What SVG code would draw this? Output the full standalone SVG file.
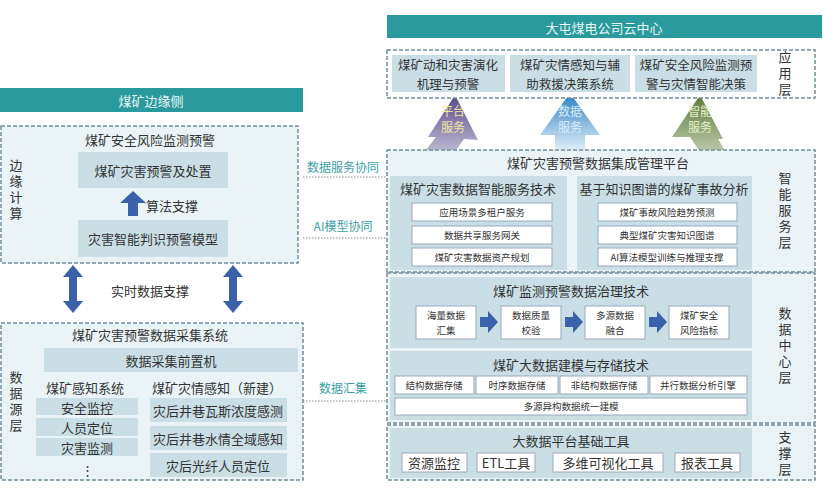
<svg xmlns="http://www.w3.org/2000/svg" width="823" height="500" viewBox="0 0 823 500">
<style>
text{font-family:"Noto Sans CJK SC","Noto Sans",sans-serif;fill:#333;text-anchor:middle;dominant-baseline:central}
.v{writing-mode:vertical-rl;letter-spacing:3px;font-size:13px}
.ban{fill:#2a9a9c}.bt{fill:#e8f6f6;font-size:13px}
.dash{fill:#eaf4f7;stroke:#6f8c9c;stroke-width:1.5;stroke-dasharray:4 2}
.pan{fill:#c9dfe5}.wb{fill:#fff;stroke:#9ab}
.t13{font-size:13px}.t12{font-size:12.5px}.t10{font-size:9.5px}
.lk{font-size:12px;fill:#3a9fa6}
.dot{stroke:#7a8a95;stroke-dasharray:1.5 1.5;stroke-width:1.2;fill:none}
.ar{fill:#3a62aa}
</style>
<defs>
<linearGradient id="gp" x1="0" y1="1" x2="0" y2="0"><stop offset="0" stop-color="#eef0f6"/><stop offset="1" stop-color="#5a4a88"/></linearGradient>
<linearGradient id="gb" x1="0" y1="1" x2="0" y2="0"><stop offset="0" stop-color="#dfeef8"/><stop offset="1" stop-color="#2a7fc4"/></linearGradient>
<linearGradient id="gg" x1="0" y1="1" x2="0" y2="0"><stop offset="0" stop-color="#eef3e6"/><stop offset="1" stop-color="#5c7a3a"/></linearGradient>
</defs>
<g id="edge-side">
<rect class="ban" x="0" y="88" width="303" height="24"/><text class="bt" x="151" y="100">煤矿边缘侧</text>
<rect class="dash" x="1" y="126" width="297" height="137"/>
<text class="t13" x="150" y="139">煤矿安全风险监测预警</text>
<text class="v" x="16" y="191">边缘计算</text>
<rect class="pan" x="78" y="152" width="150" height="36"/><text class="t13" x="153" y="170">煤矿灾害预警及处置</text>
<polygon class="ar" points="120,203 133,191 146,203 138,203 138,216 128,216 128,203"/>
<text class="t13" x="172" y="205">算法支撑</text>
<rect class="pan" x="78" y="220" width="150" height="37"/><text class="t13" x="153" y="238">灾害智能判识预警模型</text>
</g>
<g id="realtime">
<polygon class="ar" points="63,277 73,265 83,277 77,277 77,301 83,301 73,313 63,301 69,301 69,277"/>
<polygon class="ar" points="223,277 233,265 243,277 237,277 237,301 243,301 233,313 223,301 229,301 229,277"/>
<text class="t13" x="150" y="290">实时数据支撑</text>
</g>
<g id="data-source">
<rect class="dash" x="1" y="323" width="302" height="157"/>
<text class="t13" x="150" y="334">煤矿灾害预警数据采集系统</text>
<rect class="pan" x="44" y="348" width="254" height="24"/><text class="t13" x="171" y="360">数据采集前置机</text>
<text class="v" x="16" y="403">数据源层</text>
<text class="t13" x="85" y="387">煤矿感知系统</text>
<rect class="pan" x="36" y="398" width="102" height="17"/><text class="t13" x="87" y="407">安全监控</text>
<rect class="pan" x="36" y="418" width="102" height="18"/><text class="t13" x="87" y="427">人员定位</text>
<rect class="pan" x="36" y="438" width="102" height="18"/><text class="t13" x="87" y="447">灾害监测</text>
<text class="t13" x="87" y="469">⋮</text>
<text class="t13" x="217" y="387">煤矿灾情感知（新建）</text>
<rect class="pan" x="150" y="398" width="137" height="24"/><text class="t13" x="218" y="410">灾后井巷瓦斯浓度感测</text>
<rect class="pan" x="150" y="426" width="137" height="24"/><text class="t13" x="218" y="438">灾后井巷水情全域感知</text>
<rect class="pan" x="150" y="453" width="137" height="24"/><text class="t13" x="218" y="465">灾后光纤人员定位</text>
</g>
<g id="connectors">
<text class="lk" x="343" y="166">数据服务协同</text><path class="dot" d="M303 177H386"/>
<text class="lk" x="343" y="225">AI模型协同</text><path class="dot" d="M303 238H386"/>
<text class="lk" x="343" y="387">数据汇集</text><path class="dot" d="M303 401H388"/>
<path fill="url(#gp)" d="M410 175 Q425 150 436 137 L428 137 L455 95 L478 140 L464 139 Q448 162 432 180Z"/>
<polygon fill="url(#gb)" points="555,150 555,135 540,135 570,93 600,135 585,135 585,150"/>
<path fill="url(#gg)" d="M745 178 Q730 160 718 139 L723 139 L700 95 L672 137 L690 137 Q705 162 728 182Z"/>
<text x="453" y="110" style="font-size:12px;fill:#f0e8a0">平台</text><text x="453" y="126" style="font-size:12px;fill:#f0e8a0">服务</text>
<text x="570" y="110" style="font-size:12px;fill:#d9ecf8">数据</text><text x="570" y="126" style="font-size:12px;fill:#d9ecf8">服务</text>
<text x="700" y="110" style="font-size:12px;fill:#e6f0c8">智能</text><text x="700" y="126" style="font-size:12px;fill:#e6f0c8">服务</text>
</g>
<g id="cloud">
<rect class="ban" x="387" y="15" width="435" height="23"/><text class="bt" x="604" y="27">大屯煤电公司云中心</text>
</g>
<g id="app-layer">
<rect class="dash" x="387" y="50" width="428" height="48" style="fill:#fff"/>
<rect class="pan" x="392" y="55" width="113" height="37"/><text class="t12" x="448" y="64">煤矿动和灾害演化</text><text class="t12" x="448" y="83">机理与预警</text>
<rect class="pan" x="510" y="55" width="120" height="37"/><text class="t12" x="570" y="64">煤矿灾情感知与辅</text><text class="t12" x="570" y="83">助救援决策系统</text>
<rect class="pan" x="635" y="55" width="122" height="37"/><text class="t12" x="696" y="64">煤矿安全风险监测预</text><text class="t12" x="696" y="83">警与灾情智能决策</text>
<text class="v" x="785" y="75">应用层</text>
</g>
<g id="smart-layer">
<rect class="dash" x="387" y="150" width="428" height="122"/>
<text class="t13" x="598" y="162">煤矿灾害预警数据集成管理平台</text>
<rect class="pan" x="390" y="176" width="177" height="94"/><text class="t13" x="478" y="188">煤矿灾害数据智能服务技术</text>
<rect class="wb" x="412" y="203" width="140" height="18"/><text class="t10" x="482" y="212">应用场景多租户服务</text>
<rect class="wb" x="412" y="226" width="140" height="18"/><text class="t10" x="482" y="235">数据共享服务网关</text>
<rect class="wb" x="412" y="248" width="140" height="18"/><text class="t10" x="482" y="257">煤矿灾害数据资产规划</text>
<rect class="pan" x="577" y="176" width="175" height="94"/><text class="t13" x="664" y="188">基于知识图谱的煤矿事故分析</text>
<rect class="wb" x="598" y="203" width="139" height="18"/><text class="t10" x="667" y="212">煤矿事故风险趋势预测</text>
<rect class="wb" x="598" y="226" width="139" height="18"/><text class="t10" x="667" y="235">典型煤矿灾害知识图谱</text>
<rect class="wb" x="598" y="248" width="139" height="18"/><text class="t10" x="667" y="257">AI算法模型训练与推理支撑</text>
<text class="v" x="785" y="212">智能服务层</text>
</g>
<g id="data-center">
<rect class="dash" x="387" y="273" width="428" height="150"/>
<rect class="pan" x="390" y="277" width="362" height="71"/><text class="t13" x="571" y="290">煤矿监测预警数据治理技术</text>
<rect class="wb" x="416" y="306" width="60" height="33"/><text class="t10" x="446" y="315">海量数据</text><text class="t10" x="446" y="330">汇集</text>
<rect class="wb" x="501" y="306" width="60" height="33"/><text class="t10" x="531" y="315">数据质量</text><text class="t10" x="531" y="330">校验</text>
<rect class="wb" x="585" y="306" width="60" height="33"/><text class="t10" x="615" y="315">多源数据</text><text class="t10" x="615" y="330">融合</text>
<rect class="wb" x="669" y="306" width="60" height="33"/><text class="t10" x="699" y="315">煤矿安全</text><text class="t10" x="699" y="330">风险指标</text>
<polygon class="ar" points="480,317 488,317 488,311 498,322 488,333 488,327 480,327"/>
<polygon class="ar" points="565,317 573,317 573,311 583,322 573,333 573,327 565,327"/>
<polygon class="ar" points="649,317 657,317 657,311 667,322 657,333 657,327 649,327"/>
<rect class="pan" x="390" y="351" width="362" height="69"/><text class="t13" x="571" y="364">煤矿大数据建模与存储技术</text>
<rect class="wb" x="395" y="376" width="79" height="18"/><text class="t10" x="434" y="385">结构数据存储</text>
<rect class="wb" x="476" y="376" width="82" height="18"/><text class="t10" x="517" y="385">时序数据存储</text>
<rect class="wb" x="560" y="376" width="88" height="18"/><text class="t10" x="604" y="385">非结构数据存储</text>
<rect class="wb" x="650" y="376" width="97" height="18"/><text class="t10" x="698" y="385">并行数据分析引擎</text>
<rect class="wb" x="395" y="398" width="352" height="17"/><text class="t10" x="571" y="406">多源异构数据统一建模</text>
<text class="v" x="785" y="347">数据中心层</text>
</g>
<g id="support-layer">
<rect class="dash" x="387" y="425" width="428" height="55"/>
<rect class="pan" x="390" y="428" width="362" height="50"/><text class="t13" x="571" y="440">大数据平台基础工具</text>
<rect class="wb" x="402" y="453" width="65" height="19"/><text class="t13" x="434" y="462">资源监控</text>
<rect class="wb" x="477" y="453" width="58" height="19"/><text class="t13" x="506" y="462">ETL工具</text>
<rect class="wb" x="553" y="453" width="110" height="19"/><text class="t13" x="608" y="462">多维可视化工具</text>
<rect class="wb" x="675" y="453" width="65" height="19"/><text class="t13" x="707" y="462">报表工具</text>
<text class="v" x="785" y="455">支撑层</text>
</g>
</svg>
